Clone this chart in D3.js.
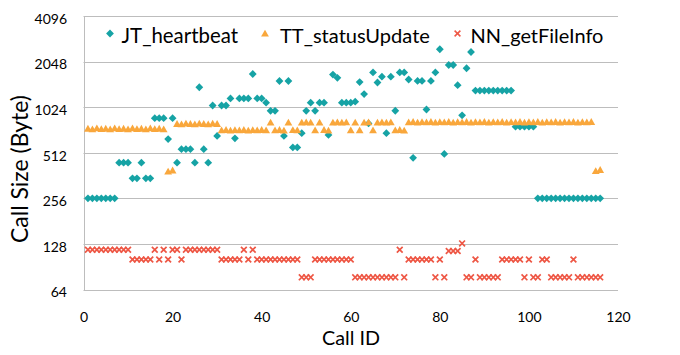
<!DOCTYPE html>
<html><head><meta charset="utf-8">
<script src="https://cdn.jsdelivr.net/npm/d3@7"></script>
<style>html,body{margin:0;padding:0;background:#fff;}svg{display:block;font-family:Lato,"Open Sans",sans-serif;}</style>
</head><body>
<svg id="chart" width="680" height="355"></svg>
<script>
// ---------- DATA ----------
const callIds = [1,2,3,4,5,6,7,8,9,10,11,12,13,14,15,16,17,18,19,20,21,22,23,24,25,26,27,28,29,30,
31,32,33,34,35,36,37,38,39,40,41,42,43,44,45,46,47,48,49,50,51,52,53,54,55,56,57,58,59,60,
61,62,63,64,65,66,67,68,69,70,71,72,73,74,75,76,77,78,79,80,81,82,83,84,85,86,87,88,89,90,
91,92,93,94,95,96,97,98,99,100,101,102,103,104,105,106,107,108,109,110,111,112,113,114,115,116];

const jtHeartbeat = [256,256,256,256,256,256,256,440,440,440,
347,347,440,347,347,866,866,866,630,866,
440,541,541,541,440,1386,541,440,1050,661,
1050,1050,1170,638,1170,1170,1170,1696,1170,1170,
1097,968,968,1524,661,1524,555,555,690,968,
1097,968,1097,1097,671,1680,1600,1097,1097,1097,
1113,1500,1250,800,1738,1490,1628,690,1628,970,
1738,1738,1560,474,1525,1525,988,1525,1738,2470,
503,1945,1945,1430,905,1850,2370,1317,1317,1317,
1317,1317,1317,1317,1317,1317,761,761,761,761,
761,256,256,256,256,256,256,256,256,256,256,
256,256,256,256,256];

const ttStatusUpdate = [740,732,745,735,740,732,745,735,740,732,
745,735,740,732,745,735,740,732,385,392,
795,790,800,795,790,800,795,790,800,795,
722,726,720,724,722,726,720,724,722,726,
722,812,722,726,720,812,724,722,812,816,
812,722,812,726,720,812,816,812,816,722,
812,722,812,816,722,812,816,812,816,722,
726,720,815,820,812,818,815,820,812,818,
815,820,812,818,815,820,812,818,815,820,
812,818,815,820,812,818,815,820,812,818,
815,820,812,818,815,820,812,818,815,820,
812,818,815,820,388,395];

const nnGetFileInfo = [117,117,117,117,117,117,117,117,117,117,
101,101,101,101,101,117,101,117,101,117,
117,101,117,117,117,117,117,117,117,117,
101,101,101,101,101,117,101,117,101,101,
101,101,101,101,101,101,101,101,77,77,
77,101,101,101,101,101,101,101,101,101,
77,77,77,77,77,77,77,77,77,77,
117,77,101,101,101,101,101,101,77,101,
77,115,115,115,129,77,77,101,77,77,
77,77,77,101,101,101,101,101,77,101,
77,77,101,101,77,77,77,77,77,101,
77,77,77,77,77,77];

const yTicks = [64,128,256,512,1024,2048,4096];
const xTicks = [0,20,40,60,80,100,120];
const seriesNames = ["JT_heartbeat","TT_statusUpdate","NN_getFileInfo"];

// ---------- LAYOUT ----------
const svg = d3.select("#chart");
const plot = {left:83.5, right:618, top:16, bottom:289.5};
const x = d3.scaleLinear().domain([0,120]).range([plot.left, plot.right]);
const y = d3.scaleLog().base(2).domain([64,4096]).range([plot.bottom, plot.top]);

const colors = {teal:"#16a3a5", orange:"#f9a73c", red:"#ee5745"};
const gridColor = "#bdbdbd";

// gridlines
svg.append("g").selectAll("line").data(yTicks.filter(d=>d>64)).join("line")
  .attr("x1", plot.left).attr("x2", plot.right)
  .attr("y1", d=>Math.round(y(d))+0.5).attr("y2", d=>Math.round(y(d))+0.5)
  .attr("stroke", gridColor).attr("stroke-width",1);

// axes lines
svg.append("line").attr("x1",Math.round(plot.left)+0.5).attr("x2",Math.round(plot.left)+0.5)
  .attr("y1",plot.top).attr("y2",Math.round(plot.bottom)+0.5).attr("stroke",gridColor);
svg.append("line").attr("x1",plot.left).attr("x2",plot.right)
  .attr("y1",Math.round(plot.bottom)+0.5).attr("y2",Math.round(plot.bottom)+0.5).attr("stroke",gridColor);

// y tick labels
const yAxis = d3.axisLeft(y).tickValues(yTicks).tickFormat(d3.format("d")).tickSize(0).tickPadding(0);
const gy = svg.append("g").attr("transform",`translate(67,0)`).call(yAxis);
gy.select(".domain").remove();
gy.selectAll("text").attr("font-family","Lato").attr("font-size",14).attr("fill","#000")
  .attr("dy",null).attr("y",7.3).attr("x",0);

const xAxis = d3.axisBottom(x).tickValues(xTicks).tickSize(0).tickPadding(0);
const gx = svg.append("g").call(xAxis);
gx.select(".domain").remove();
gx.selectAll("text").attr("font-family","Lato").attr("font-size",14).attr("fill","#000")
  .attr("dy",null).attr("y",322);

// axis titles
function fit(sel, target){
  const w = sel.node().getComputedTextLength();
  const fs = parseFloat(sel.attr("font-size"));
  sel.attr("font-size", fs*target/w);
}
const xt = svg.append("text").attr("x",351).attr("y",345).attr("text-anchor","middle")
  .attr("font-family","Lato").attr("font-size",20).attr("fill","#000").text("Call ID");
fit(xt, 58);
const yt = svg.append("text").attr("transform","translate(28,169) rotate(-90)").attr("text-anchor","middle")
  .attr("font-family","Lato").attr("font-size",20).attr("fill","#000").text("Call Size (Byte)");
fit(yt, 148);

// markers
const diamond = "M0,-3.9L3.9,0L0,3.9L-3.9,0Z";
const triangle = "M0,-3.7L3.9,3.1L-3.9,3.1Z";
const cross = "M-2.9,-2.9L2.9,2.9M-2.9,2.9L2.9,-2.9";

const tealData = callIds.map((c,i)=>({c, v:jtHeartbeat[i]}));
const orangeData = callIds.map((c,i)=>({c, v:ttStatusUpdate[i]}));
const redData = callIds.map((c,i)=>({c, v:nnGetFileInfo[i]}));

svg.append("g").selectAll("path").data(tealData).join("path")
  .attr("d",diamond).attr("transform",d=>`translate(${x(d.c)},${y(d.v)})`).attr("fill",colors.teal);
svg.append("g").selectAll("path").data(orangeData).join("path")
  .attr("d",triangle).attr("transform",d=>`translate(${x(d.c)},${y(d.v)})`).attr("fill",colors.orange);
svg.append("g").selectAll("path").data(redData).join("path")
  .attr("d",cross).attr("transform",d=>`translate(${x(d.c)},${y(d.v)})`)
  .attr("fill","none").attr("stroke",colors.red).attr("stroke-width",1.7);

// legend
const legend = [
  {name:seriesNames[0], mx:110, tx:121.5, w:116.5, shape:diamond, type:"fill", col:colors.teal},
  {name:seriesNames[1], mx:265, tx:280, w:150, shape:triangle, type:"fill", col:colors.orange},
  {name:seriesNames[2], mx:457.5, tx:470.5, w:133, shape:cross, type:"stroke", col:colors.red}
];
const lg = svg.append("g");
legend.forEach(l=>{
  const p = lg.append("path").attr("d",l.shape).attr("transform",`translate(${l.mx},33.5)`);
  if(l.type==="fill") p.attr("fill",l.col); else p.attr("fill","none").attr("stroke",l.col).attr("stroke-width",1.5);
  const t = lg.append("text").attr("x",l.tx).attr("y",42.5).attr("font-family","Lato")
    .attr("font-size",20).attr("fill","#000").text(l.name);
  fit(t, l.w);
});
</script>
</body></html>
